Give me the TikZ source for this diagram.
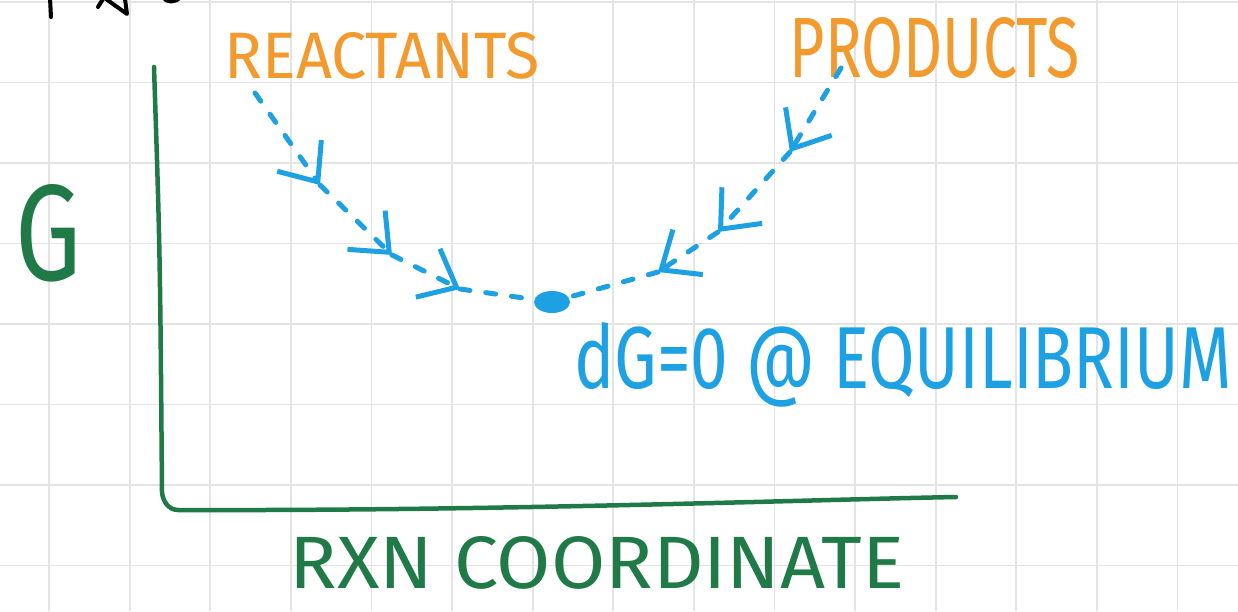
\documentclass[tikz,border=0pt]{standalone}
\usepackage{fontspec}
\usepackage{graphicx}
\setmainfont{Fira Sans}
\usetikzlibrary{arrows.meta,shapes.geometric}
\definecolor{hblue}{HTML}{1DA1E2}
\definecolor{horange}{HTML}{F39A2E}
\definecolor{hgreen}{HTML}{1F7A48}
\definecolor{hgrid}{HTML}{E4E4E4}
\tikzset{
  gridline/.style={draw=hgrid, line width=1.8pt},
  axisline/.style={draw=hgreen, line width=4.5pt, line cap=round, line join=round},
  bdash/.style={draw=hblue, line width=5pt, line cap=round, dash pattern=on 10pt off 16pt},
  btip/.style={-{Straight Barb[length=32pt,width=54pt,line width=5pt]}},
  lbl/.style={inner sep=0pt, outer sep=0pt},
  eqdot/.style={ellipse, fill=hblue, inner sep=0pt, minimum width=36pt, minimum height=22pt},
  inkblack/.style={draw=black, line width=4pt, line cap=round, line join=round}
}
\begin{document}
\begin{tikzpicture}[x=1pt,y=-1pt]
\useasboundingbox (0,0) rectangle (1238,611);
\fill[white] (0,0) rectangle (1238,611);
% grid
\foreach \i in {0,...,15} \draw[gridline] ({49+80.6*\i},0) -- ({49+80.6*\i},611);
\foreach \j in {0,...,7} \draw[gridline] (0,{2+80.5*\j}) -- (1238,{2+80.5*\j});
% cut-off black marks at top
\begin{scope}
\clip (0,0) rectangle (1238,611);
\draw[inkblack] (50,-2) -- (51,17);
\draw[inkblack] (98,7) -- (103,-1);
\draw[inkblack] (106,-1) -- (127,14) -- (125,-1);
\draw[inkblack] (163,-3) .. controls (166,3) and (176,3) .. (180,-3);
\end{scope}
% axes
\coordinate (ytop) at (154,67);
\coordinate (corner) at (178,510);
\coordinate (xend) at (956,497);
\draw[axisline] (ytop) .. controls (160,250) .. (162,492) to[out=-85,in=180] (corner) .. controls (500,511) and (800,500) .. (xend);
% labels
\node[lbl, text=hgreen] (glabel) at (49,233) {\resizebox{66pt}{96pt}{G}};
\node[lbl, text=horange] (reac) at (382,56) {\resizebox{315pt}{46pt}{REACTANTS}};
\node[lbl, text=horange] (prod) at (935,48) {\resizebox{290pt}{60pt}{PRODUCTS}};
\node[lbl, text=hblue] (eqtext) at (903,365) {\resizebox{657pt}{66pt}{dG=0 @ EQUILIBRIUM}};
\node[lbl, text=hgreen] (xlabel) at (597,563) {\resizebox{615pt}{52pt}{RXN COORDINATE}};
% equilibrium point
\node[eqdot] (eq) at (552,302) {};
% reactant path
\coordinate (r0) at (255,93);
\coordinate (r1) at (320,185);
\coordinate (r2) at (392,255);
\coordinate (r3) at (460,289);
\draw[bdash, btip] (r0) -- (r1);
\draw[bdash, btip] (r1) -- (r2);
\draw[bdash, btip] (r2) -- (r3);
\draw[bdash] (r3) -- (eq);
% product path
\coordinate (p0) at (841,68);
\coordinate (p1) at (790,152);
\coordinate (p2) at (718,232);
\coordinate (p3) at (658,272);
\draw[bdash, btip] (p0) -- (p1);
\draw[bdash, btip] (p1) -- (p2);
\draw[bdash, btip] (p2) -- (p3);
\draw[bdash] (p3) -- (eq);
\end{tikzpicture}
\end{document}
